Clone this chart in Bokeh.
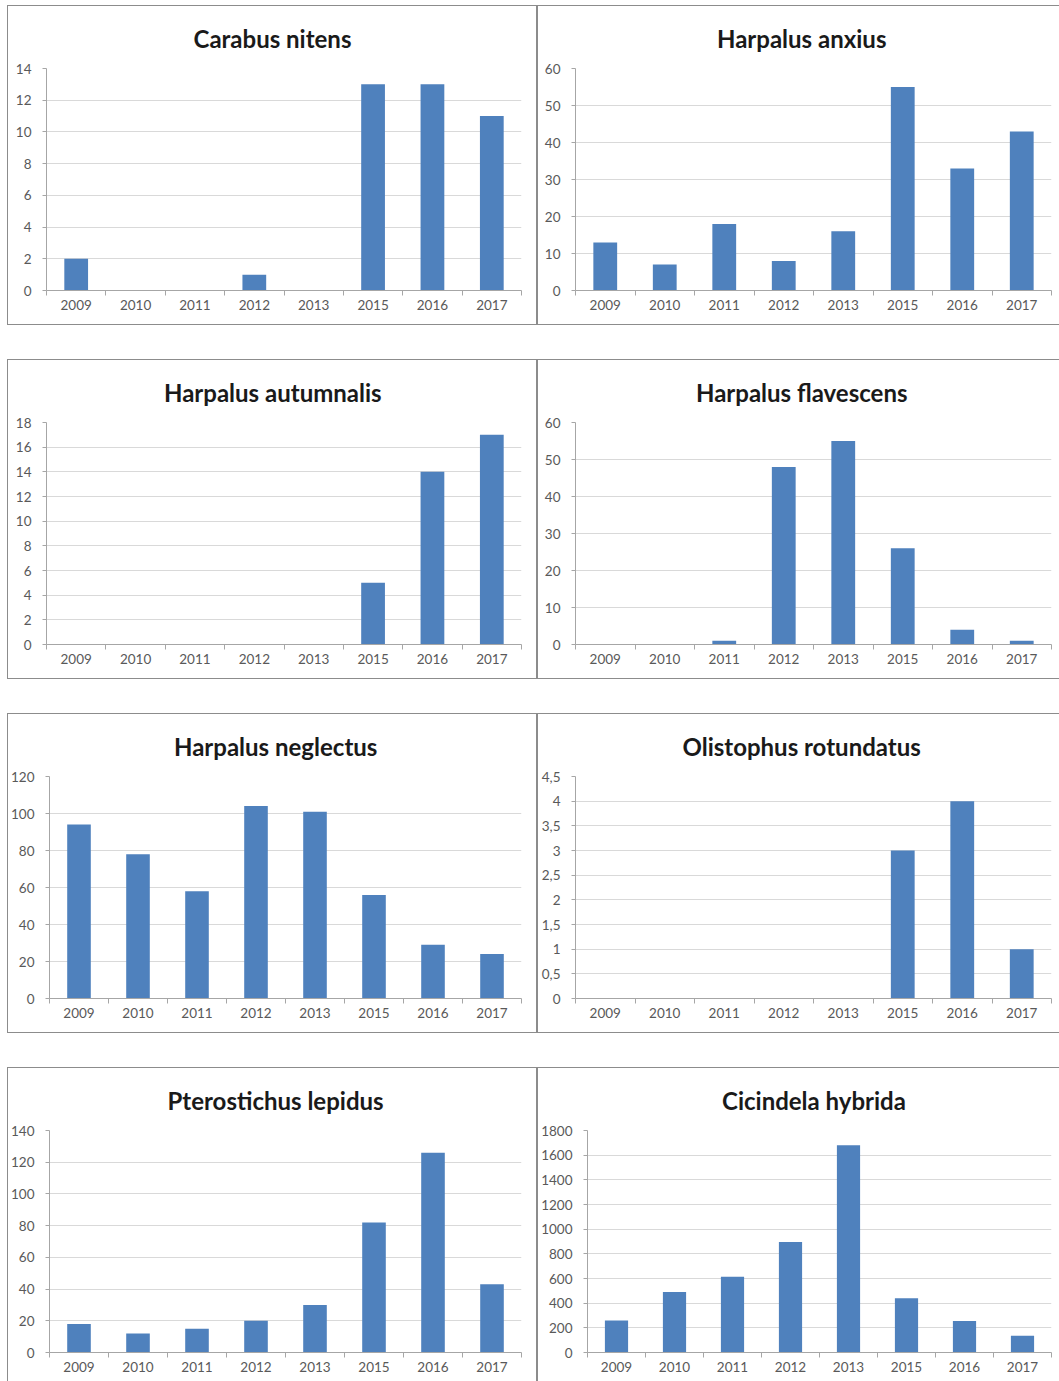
from bokeh.plotting import figure
from bokeh.models import Range1d, FixedTicker, Title, Spacer
from bokeh.layouts import row, column
from bokeh.embed import file_html
from bokeh.resources import INLINE

years = ["2009", "2010", "2011", "2012", "2013", "2015", "2016", "2017"]

titles = [
    "Carabus nitens", "Harpalus anxius",
    "Harpalus autumnalis", "Harpalus flavescens",
    "Harpalus neglectus", "Olistophus rotundatus",
    "Pterostichus lepidus", "Cicindela hybrida",
]

carabus_nitens = [2, 0, 0, 1, 0, 13, 13, 11]
harpalus_anxius = [13, 7, 18, 8, 16, 55, 33, 43]
harpalus_autumnalis = [0, 0, 0, 0, 0, 5, 14, 17]
harpalus_flavescens = [0, 0, 1, 48, 55, 26, 4, 1]
harpalus_neglectus = [94, 78, 58, 104, 101, 56, 29, 24]
olistophus_rotundatus = [0, 0, 0, 0, 0, 3, 4, 1]
pterostichus_lepidus = [18, 12, 15, 20, 30, 82, 126, 43]
cicindela_hybrida = [260, 490, 615, 895, 1680, 440, 255, 135]

series = [
    carabus_nitens, harpalus_anxius,
    harpalus_autumnalis, harpalus_flavescens,
    harpalus_neglectus, olistophus_rotundatus,
    pterostichus_lepidus, cicindela_hybrida,
]

yticks_carabus = [0, 2, 4, 6, 8, 10, 12, 14]
yticks_anxius = [0, 10, 20, 30, 40, 50, 60]
yticks_autumnalis = [0, 2, 4, 6, 8, 10, 12, 14, 16, 18]
yticks_flavescens = [0, 10, 20, 30, 40, 50, 60]
yticks_neglectus = [0, 20, 40, 60, 80, 100, 120]
yticks_olistophus = [0, 0.5, 1, 1.5, 2, 2.5, 3, 3.5, 4, 4.5]
ylabels_olistophus = ["0", "0,5", "1", "1,5", "2", "2,5", "3", "3,5", "4", "4,5"]
yticks_lepidus = [0, 20, 40, 60, 80, 100, 120, 140]
yticks_hybrida = [0, 200, 400, 600, 800, 1000, 1200, 1400, 1600, 1800]

yticks = [
    yticks_carabus, yticks_anxius,
    yticks_autumnalis, yticks_flavescens,
    yticks_neglectus, yticks_olistophus,
    yticks_lepidus, yticks_hybrida,
]
ylabels = [None, None, None, None, None, ylabels_olistophus, None, None]

BAR = "#4f81bd"
AXIS = "#a6a6a6"
GRID = "#d9d9d9"
LABEL = "#595959"
FONT = "Lato"

# approximate rendered widths of the titles (24px Lato bold), used only to
# centre each title on its panel rather than on its plot frame
TITLE_W = [158, 169, 217, 211, 203, 238, 216, 183]


def make(title, tw, vals, ticks, labels, width, height, left, right, top, bottom,
         centre, last=False, right_col=False):
    n = len(years)
    p = figure(width=width, height=height,
               x_range=Range1d(0, n), y_range=Range1d(ticks[0], ticks[-1]),
               output_backend="svg", toolbar_location=None,
               min_border_left=left, min_border_right=right,
               min_border_top=top, min_border_bottom=bottom)
    p.outline_line_color = None
    centers = [i + 0.5 for i in range(n)]
    p.vbar(x=centers, top=vals, bottom=0, width=0.4, fill_color=BAR, line_color=None)

    t = Title(text=title, align="left", vertical_align="top",
              offset=centre - left - tw / 2,
              text_font=FONT, text_font_size="24px",
              text_font_style="bold", text_color="#1a1a1a", standoff=28)
    p.add_layout(t, "above")

    xa = p.xaxis[0]
    xa.ticker = FixedTicker(ticks=centers, minor_ticks=list(range(n + 1)))
    xa.major_label_overrides = {c: y for c, y in zip(centers, years)}
    xa.major_tick_in = 0
    xa.major_tick_out = 0
    xa.minor_tick_in = 0
    xa.minor_tick_out = 5
    xa.minor_tick_line_color = AXIS
    xa.axis_line_color = AXIS
    xa.major_label_text_font = FONT
    xa.major_label_text_font_size = "13.5px"
    xa.major_label_text_color = LABEL
    xa.major_label_standoff = 4

    ya = p.yaxis[0]
    ya.ticker = FixedTicker(ticks=ticks)
    if labels is not None:
        ya.major_label_overrides = {tk: lb for tk, lb in zip(ticks, labels)}
    ya.major_tick_in = 0
    ya.major_tick_out = 4
    ya.major_tick_line_color = AXIS
    ya.minor_tick_line_color = None
    ya.axis_line_color = AXIS
    ya.major_label_text_font = FONT
    ya.major_label_text_font_size = "13.5px"
    ya.major_label_text_color = LABEL
    ya.major_label_standoff = 11

    p.xgrid.visible = False
    p.ygrid.ticker = FixedTicker(ticks=ticks)
    p.ygrid.grid_line_color = GRID
    p.ygrid.grid_line_width = 1

    border = "1px solid #8c8c8c"
    st = {"border-top": border, "border-left": border, "box-sizing": "border-box"}
    if not right_col:
        st["border-right"] = border
    if not last:
        st["border-bottom"] = border
    p.styles = st
    return p


rows = []
for r in range(4):
    last = (r == 3)
    h = 314 if last else 320
    bottom = h - 62 - 222
    figs = []
    for c in range(2):
        i = r * 2 + c
        if c == 0:
            f = make(titles[i], TITLE_W[i], series[i], yticks[i], ylabels[i],
                     530, h, 38, 17, 62, bottom, 264, last)
        else:
            f = make(titles[i], TITLE_W[i], series[i], yticks[i], ylabels[i],
                     522, h, 37, 9, 62, bottom, 263, last, right_col=True)
        figs.append(f)
    rows.append(row(*figs, spacing=0))

grid = column(*rows, spacing=34)
layout = row(Spacer(width=7), column(Spacer(height=5), grid, spacing=0), spacing=0)

open("out.html", "w").write(file_html(layout, INLINE))
